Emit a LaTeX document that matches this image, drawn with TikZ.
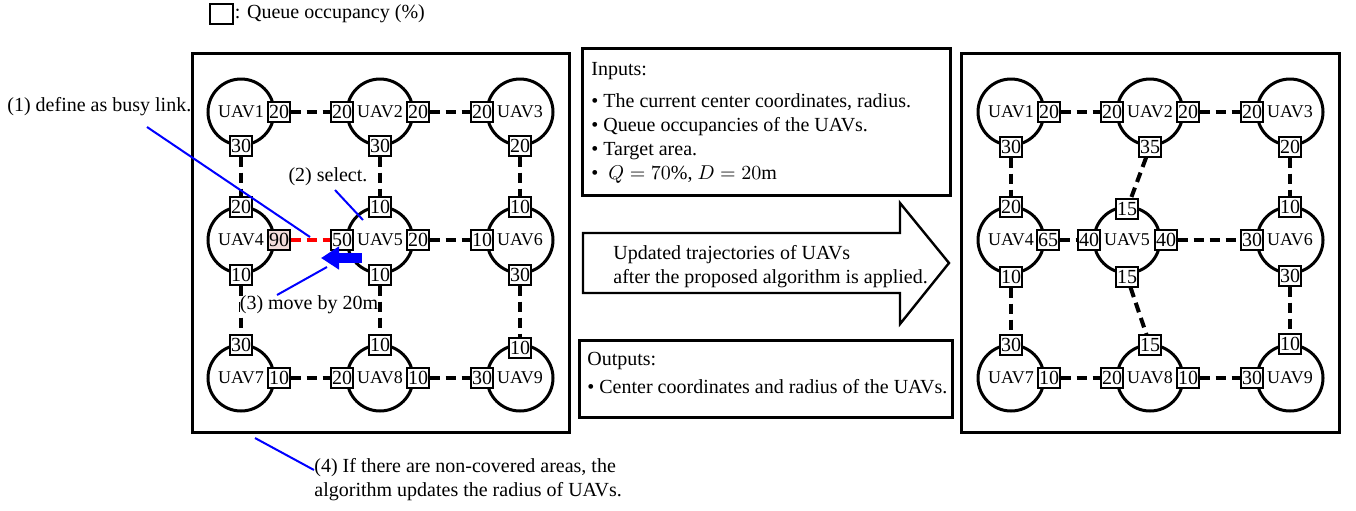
\documentclass[tikz,border=0pt]{standalone}
\usepackage{fontspec}
\setmainfont{Liberation Serif}
\usetikzlibrary{arrows.meta, positioning, calc}
\definecolor{busypink}{RGB}{242, 221, 219}
\definecolor{noteblue}{RGB}{0, 0, 255}

\begin{document}
\begin{tikzpicture}[
        x=0.5pt, y=-0.5pt,
        font=\fontsize{10}{12}\selectfont,
        uav/.style={circle, draw, line width=1.5pt, minimum size=33pt, inner sep=0pt, font=\fontsize{9}{10}\selectfont},
        qbox/.style={draw, fill=white, line width=0.6pt, minimum width=11pt, minimum height=10pt, inner sep=0pt},
        hot/.style={qbox, fill=busypink},
        qlink/.style={line width=2pt, dash pattern=on 5pt off 3pt},
        frame/.style={line width=1.5pt},
        note/.style={noteblue, line width=1pt}
      ]
        \useasboundingbox (0,0) rectangle (1356,510);

        % legend
        \node[draw, line width=1pt, minimum width=11.5pt, minimum height=10pt, inner sep=0pt] (key) at (221,14) {};
        \node[right=0pt of key, inner sep=0.5pt] (keytxt) {: Queue occupancy (\%)};

        % before
        \draw[frame] (192,53) rectangle (569,432);
        \node[uav] (a1) at (241,112) {UAV1};
        \node[uav] (a2) at (380,112) {UAV2};
        \node[uav] (a3) at (520,112) {UAV3};
        \node[uav] (a4) at (241,240) {UAV4};
        \node[uav] (a5) at (380,240) {UAV5};
        \node[uav] (a6) at (520,240) {UAV6};
        \node[uav] (a7) at (241,378) {UAV7};
        \node[uav] (a8) at (380,378) {UAV8};
        \node[uav] (a9) at (520,378) {UAV9};

        \node[qbox] (a1e) at (279,112) {20};
        \node[qbox] (a1s) at (241,146) {30};
        \node[qbox] (a2w) at (342,112) {20};
        \node[qbox] (a2e) at (418,112) {20};
        \node[qbox] (a2s) at (380,146) {30};
        \node[qbox] (a3w) at (482,112) {20};
        \node[qbox] (a3s) at (520,146) {20};
        \node[qbox] (a4n) at (241,207) {20};
        \node[hot]  (a4e) at (279,240) {90};
        \node[qbox] (a4s) at (241,275) {10};
        \node[qbox] (a5n) at (380,207) {10};
        \node[qbox] (a5w) at (342,240) {50};
        \node[qbox] (a5e) at (418,240) {20};
        \node[qbox] (a5s) at (380,275) {10};
        \node[qbox] (a6n) at (520,207) {10};
        \node[qbox] (a6w) at (482,240) {10};
        \node[qbox] (a6s) at (520,275) {30};
        \node[qbox] (a7n) at (241,345) {30};
        \node[qbox] (a7e) at (279,378) {10};
        \node[qbox] (a8n) at (380,345) {10};
        \node[qbox] (a8w) at (342,378) {20};
        \node[qbox] (a8e) at (418,378) {10};
        \node[qbox] (a9n) at (520,348) {10};
        \node[qbox] (a9w) at (482,378) {30};

        \draw[qlink] (a1e) -- (a2w);
        \draw[qlink] (a2e) -- (a3w);
        \draw[qlink] (a1s) -- (a4n);
        \draw[qlink] (a2s) -- (a5n);
        \draw[qlink] (a3s) -- (a6n);
        \draw[qlink, red] (a4e) -- (a5w);
        \draw[qlink] (a5e) -- (a6w);
        \draw[qlink] (a4s) -- (a7n);
        \draw[qlink] (a5s) -- (a8n);
        \draw[qlink] (a6s) -- (a9n);
        \draw[qlink] (a7e) -- (a8w);
        \draw[qlink] (a8e) -- (a9w);

        % steps of the algorithm
        \node[anchor=west, inner sep=0pt] (step1) at (7,107) {(1) define as busy link.};
        \node[inner sep=0pt] (step2) at (328,177) {(2) select.};
        \node[fill=white, inner sep=0pt] (step3) at (309,305) {(3) move by 20m};
        \node[anchor=west, align=left, inner sep=0pt] (step4) at (314,480) {(4) If there are non-covered areas, the\\algorithm updates the radius of UAVs.};
        \coordinate (s1a) at (147,127);
        \coordinate (s1b) at (310,237);
        \coordinate (s2a) at (335,190);
        \coordinate (s2b) at (363,220);
        \coordinate (s3a) at (277,295);
        \coordinate (s3b) at (327,267);
        \coordinate (s4a) at (255,438);
        \coordinate (mvs) at (362,258);
        \coordinate (mvt) at (321,258);
        \draw[note] (s1a) -- (s1b);
        \draw[note] (s2a) -- (s2b);
        \draw[note] (s3a) -- (s3b);
        \draw[note] (s4a) -- (step4.west |- 0,470);
        \draw[noteblue, line width=5pt, -{Triangle[length=9pt, width=11pt]}] (mvs) -- (mvt);

        % inputs, update arrow, outputs
        \draw[frame] (582,48) rectangle (950,195);
        \node[anchor=north west, align=left, inner sep=0pt] (inp) at (591,62) {Inputs:\\[4pt]
          \textbullet\ The current center coordinates, radius.\\
          \textbullet\ Queue occupancies of the UAVs.\\
          \textbullet\ Target area.\\
          \textbullet\ \ $Q = 70\%$, $D = 20\mathrm{m}$};
        \draw[line width=1.2pt, line join=miter] (583,233) -- (900,233) -- (900,203) -- (949,263)
          -- (900,324) -- (900,293) -- (583,293) -- cycle;
        \node[anchor=west, align=left, inner sep=0pt] (upd) at (613,267) {Updated trajectories of UAVs\\after the proposed algorithm is applied.};
        \draw[frame] (579,340) rectangle (952,417);
        \node[anchor=north west, align=left, inner sep=0pt] (outp) at (587,352) {Outputs:\\[2pt]
          \textbullet\ Center coordinates and radius of the UAVs.};

        % after
        \draw[frame] (961,53) rectangle (1339,432);
        \node[uav] (b1) at (1011,112) {UAV1};
        \node[uav] (b2) at (1150,112) {UAV2};
        \node[uav] (b3) at (1290,112) {UAV3};
        \node[uav] (b4) at (1011,240) {UAV4};
        \node[uav] (b5) at (1127,240) {UAV5};
        \node[uav] (b6) at (1290,240) {UAV6};
        \node[uav] (b7) at (1011,378) {UAV7};
        \node[uav] (b8) at (1150,378) {UAV8};
        \node[uav] (b9) at (1290,378) {UAV9};

        \node[qbox] (b1e) at (1049,112) {20};
        \node[qbox] (b1s) at (1011,147) {30};
        \node[qbox] (b2w) at (1112,112) {20};
        \node[qbox] (b2e) at (1188,112) {20};
        \node[qbox] (b2s) at (1150,147) {35};
        \node[qbox] (b3w) at (1252,112) {20};
        \node[qbox] (b3s) at (1290,147) {20};
        \node[qbox] (b4n) at (1011,207) {20};
        \node[qbox] (b4e) at (1048,240) {65};
        \node[qbox] (b4s) at (1011,277) {10};
        \node[qbox] (b5n) at (1127,209) {15};
        \node[qbox] (b5w) at (1089,240) {40};
        \node[qbox] (b5e) at (1166,240) {40};
        \node[qbox] (b5s) at (1127,277) {15};
        \node[qbox] (b6n) at (1290,207) {10};
        \node[qbox] (b6w) at (1252,240) {30};
        \node[qbox] (b6s) at (1290,276) {30};
        \node[qbox] (b7n) at (1011,345) {30};
        \node[qbox] (b7e) at (1049,378) {10};
        \node[qbox] (b8n) at (1150,345) {15};
        \node[qbox] (b8w) at (1112,378) {20};
        \node[qbox] (b8e) at (1188,378) {10};
        \node[qbox] (b9n) at (1290,344) {10};
        \node[qbox] (b9w) at (1252,378) {30};

        \draw[qlink] (b1e) -- (b2w);
        \draw[qlink] (b2e) -- (b3w);
        \draw[qlink] (b1s) -- (b4n);
        \draw[qlink] (b2s) -- (b5n);
        \draw[qlink] (b3s) -- (b6n);
        \draw[qlink] (b4e) -- (b5w);
        \draw[qlink] (b5e) -- (b6w);
        \draw[qlink] (b4s) -- (b7n);
        \draw[qlink] (b5s) -- (b8n);
        \draw[qlink] (b6s) -- (b9n);
        \draw[qlink] (b7e) -- (b8w);
        \draw[qlink] (b8e) -- (b9w);
      \end{tikzpicture}
\end{document}
